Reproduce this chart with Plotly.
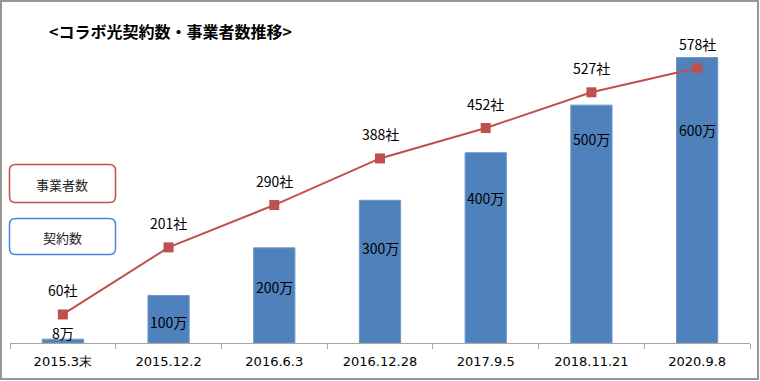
import plotly.graph_objects as go

categories = ["2015.3末", "2015.12.2", "2016.6.3", "2016.12.28", "2017.9.5", "2018.11.21", "2020.9.8"]
contracts = [8, 100, 200, 300, 400, 500, 600]          # 万
operators = [60, 201, 290, 388, 452, 527, 578]         # 社
contract_labels = [f"{v}万" for v in contracts]
operator_labels = [f"{v}社" for v in operators]
# manual placement of the contract labels (data units), as in the original
contract_label_y = [21, 44, 118, 200, 305, 429, 448]

W, H = 760, 381
ML, MR, MT, MB = 10, 10, 10, 38
pw, ph = W - ML - MR, H - MT - MB

def px(x):
    return (x - ML) / pw

def py(y):
    return (H - MB - y) / ph

BLUE = "#4F81BD"
RED = "#C0504D"
JP = "Noto Sans CJK JP"

fig = go.Figure()
fig.add_trace(go.Bar(
    x=categories, y=contracts, marker=dict(color=BLUE, line=dict(color="#6F97C8", width=1)),
    showlegend=False, hoverinfo="skip"))
fig.add_trace(go.Scatter(
    x=categories, y=operators, mode="lines+markers",
    line=dict(color=RED, width=2),
    marker=dict(symbol="square", size=10, color=RED),
    showlegend=False, hoverinfo="skip"))

ann = []
for c, t, yy in zip(categories, contract_labels, contract_label_y):
    ann.append(dict(x=c, y=yy, text=t, showarrow=False, xref="x", yref="y",
                    font=dict(family=JP, size=14, color="#000")))
for c, t, v in zip(categories, operator_labels, operators):
    ann.append(dict(x=c, y=v, text=t, showarrow=False, xref="x", yref="y", yshift=24,
                    font=dict(family=JP, size=14, color="#000")))
# title
ann.append(dict(x=px(47), y=py(31), xref="paper", yref="paper", xanchor="left", yanchor="middle",
                text="<b><コラボ光契約数・事業者数推移></b>", showarrow=False,
                font=dict(family=JP, size=16, color="#000")))
# legend texts
ann.append(dict(x=px(62), y=py(184), xref="paper", yref="paper", text="事業者数", showarrow=False,
                xanchor="center", yanchor="middle",
                font=dict(family=JP, size=13, color="#222")))
ann.append(dict(x=px(62), y=py(237), xref="paper", yref="paper", text="契約数", showarrow=False,
                xanchor="center", yanchor="middle",
                font=dict(family=JP, size=13, color="#222")))

def rrect(x0, y0, x1, y1, r):
    X = lambda v: px(v)
    Y = lambda v: py(v)
    return (f"M{X(x0+r)},{Y(y0)} L{X(x1-r)},{Y(y0)} Q{X(x1)},{Y(y0)} {X(x1)},{Y(y0+r)} "
            f"L{X(x1)},{Y(y1-r)} Q{X(x1)},{Y(y1)} {X(x1-r)},{Y(y1)} L{X(x0+r)},{Y(y1)} "
            f"Q{X(x0)},{Y(y1)} {X(x0)},{Y(y1-r)} L{X(x0)},{Y(y0+r)} Q{X(x0)},{Y(y0)} {X(x0+r)},{Y(y0)} Z")

shapes = [
    dict(type="path", xref="paper", yref="paper", path=rrect(9.5, 164.5, 115.5, 202.5, 6),
         line=dict(color=RED, width=1.5)),
    dict(type="path", xref="paper", yref="paper", path=rrect(9.5, 218.5, 115.5, 254.5, 6),
         line=dict(color="#4A86D8", width=1.5)),
    dict(type="rect", xref="paper", yref="paper", x0=px(1), x1=px(758), y0=py(1), y1=py(379),
         line=dict(color="#969696", width=2)),
]

fig.update_layout(
    width=W, height=H, margin=dict(l=ML, r=MR, t=MT, b=MB),
    paper_bgcolor="white", plot_bgcolor="white",
    bargap=0.61, annotations=ann, shapes=shapes,
    xaxis=dict(type="category", showline=True, linecolor="#A6A6A6", linewidth=1,
               ticks="outside", tickson="boundaries", ticklen=5, tickcolor="#A6A6A6",
               tickfont=dict(family="DejaVu Sans", size=13, color="#000"),
               ticklabelstandoff=6, showgrid=False, zeroline=False),
    yaxis=dict(range=[0, 700], visible=False, showgrid=False, zeroline=False),
)

fig.write_html("out.html")
